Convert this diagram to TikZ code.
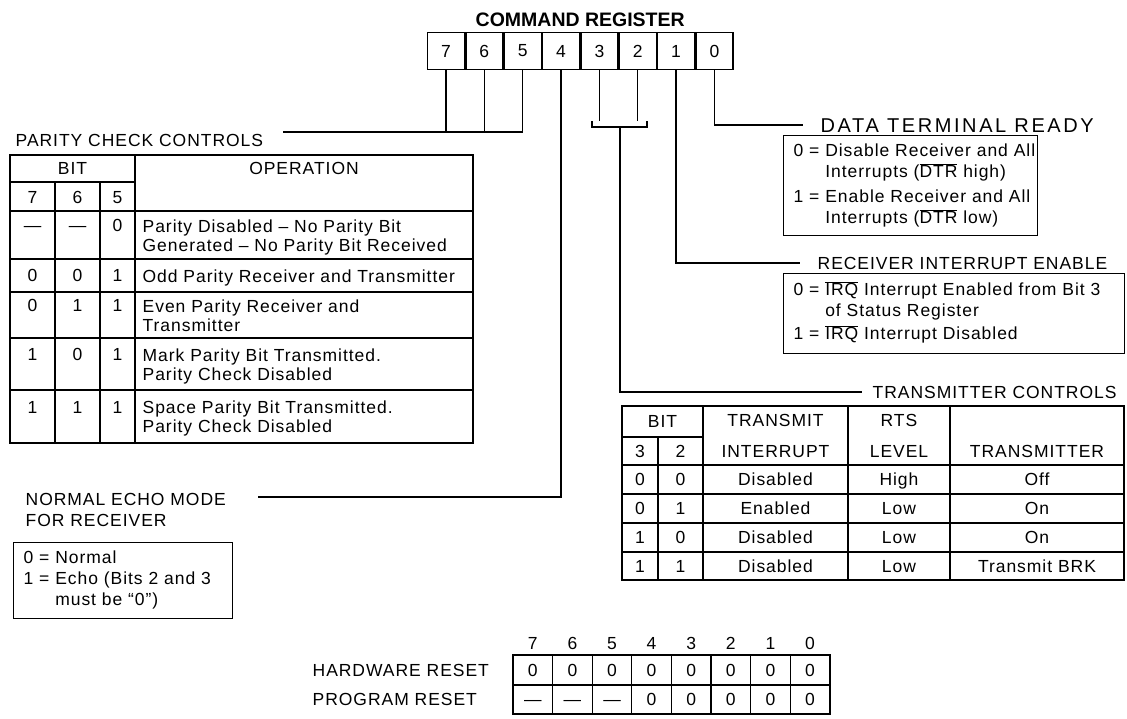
\documentclass[tikz,border=0pt]{standalone}
\usepackage{fontspec}
\setmainfont{Liberation Sans}[LetterSpace=5.5]
\newfontfamily\widefont{Liberation Sans}[LetterSpace=13]
\newfontfamily\headfont{Liberation Sans}
\usetikzlibrary{positioning, calc}
\newcommand{\bodysize}{\fontsize{17.5}{19}\selectfont}
\newcommand{\boxsize}{\fontsize{17.5}{21}\selectfont}
\newcommand{\barsig}[1]{$\overline{\mbox{#1}}$}

\begin{document}
\begin{tikzpicture}[x=1pt, y=-1pt, line width=1.35pt, font=\bodysize]
    \tikzstyle{reg} = [draw, minimum width=37pt, minimum height=37pt, inner sep=0pt]
    \tikzstyle{lbl} = [inner sep=0pt, anchor=west, text height=12.5pt, text depth=0pt]
    \tikzstyle{tcell} = [inner sep=0pt, text height=12.5pt, text depth=0pt]
    \tikzstyle{optext} = [inner sep=0pt, anchor=north west, align=left]
    \tikzstyle{infobox} = [draw, anchor=north west, align=left, inner xsep=10pt, inner ysep=0pt, font=\boxsize]

    \useasboundingbox (0,0) rectangle (1127,718);

    % command register
    \node [reg] (r7) at (446,51) {7};
    \foreach \b/\a in {6/7,5/6,4/5,3/4,2/3,1/2,0/1}
      \node [reg, right=0pt of r\a] (r\b) {\b};
    \node [anchor=base, font=\headfont\bfseries\fontsize{19.5}{22}\selectfont] (title) at ([yshift=5pt]r4.north east) {COMMAND REGISTER};

    % parity check controls
    \node [lbl] (parlbl) at (15,140) {PARITY CHECK CONTROLS};
    \coordinate (pj) at (283,132);
    \draw (r5.south) |- (pj);
    \draw (r7.south) -- (r7.south |- pj);
    \draw (r6.south) -- (r6.south |- pj);

    \draw (10,155) rectangle (473,443);
    \draw (10,182) -- (135,182);
    \draw (135,155) -- (135,443);
    \foreach \x in {55,100} \draw (\x,182) -- (\x,443);
    \foreach \y in {211,259,292,338,390} \draw (10,\y) -- (473,\y);
    \node [tcell] (pbit) at (72.5,168) {BIT};
    \node [tcell] (pop) at (304,168) {OPERATION};
    \foreach \d/\x in {7/32.5,6/77.5,5/117.5} \node [tcell] (pb\d) at (\x,197) {\d};
    \foreach \a/\b/\c/\y/\op [count=\i] in {
        ---/---/0/225.5/{Parity Disabled -- No Parity Bit\\Generated -- No Parity Bit Received},
        0/0/1/275.5/{Odd Parity Receiver and Transmitter},
        0/1/1/305.5/{Even Parity Receiver and\\Transmitter},
        1/0/1/354.5/{Mark Parity Bit Transmitted.\\Parity Check Disabled},
        1/1/1/407/{Space Parity Bit Transmitted.\\Parity Check Disabled}} {
      \node [tcell] (pa\i) at (32.5,\y) {\a};
      \node [tcell] (pc\i) at (77.5,\y) {\b};
      \node [tcell] (pd\i) at (117.5,\y) {\c};
      \node [optext] (po\i) at (142,\y-6.5) {\op};
    }

    % normal echo mode
    \node [optext, font=\boxsize] (echolbl) at (25,492.5) {NORMAL ECHO MODE\\FOR RECEIVER};
    \coordinate (ej) at (258,497);
    \draw (r4.south) |- (ej);
    \node [infobox, minimum width=219pt, minimum height=76pt, text width=199pt] (echobox) at (13,542) {%
      \begin{tabular}{@{}l@{ }l@{}}
        0 = & Normal\\
        1 = & Echo (Bits 2 and 3\\
            & must be ``0'')
      \end{tabular}};

    % data terminal ready
    \node [lbl, font=\widefont\fontsize{20}{22}\selectfont, text height=14pt] (dtrlbl) at (820,125) {DATA TERMINAL READY};
    \draw (r0.south) |- ([xshift=-17pt]dtrlbl.west);
    \node [infobox, minimum width=254pt, minimum height=100pt, text width=234pt] (dtrbox) at (783,135) {%
      \begin{tabular}{@{}l@{ }l@{}}
        0 = & Disable Receiver and All\\
            & Interrupts (\barsig{DTR} high)\\[4pt]
        1 = & Enable Receiver and All\\
            & Interrupts (\barsig{DTR} low)
      \end{tabular}};

    % receiver interrupt enable
    \node [lbl] (rielbl) at (817,263) {RECEIVER INTERRUPT ENABLE};
    \draw (r1.south) |- ([xshift=-17pt]rielbl.west);
    \node [infobox, minimum width=341pt, minimum height=80pt, text width=321pt] (riebox) at (783,273) {%
      \begin{tabular}{@{}l@{ }l@{}}
        0 = & \barsig{IRQ} Interrupt Enabled from Bit 3\\
            & of Status Register\\[2pt]
        1 = & \barsig{IRQ} Interrupt Disabled
      \end{tabular}};

    % transmitter controls
    \coordinate (brl) at (592,121);
    \coordinate (brr) at (647,121);
    \coordinate (brm) at (620,127);
    \draw (r3.south) -- (r3.south |- brl);
    \draw (r2.south) -- (r2.south |- brr);
    \draw (brl) -- (brl |- brm) -- (brr |- brm) -- (brr);
    \node [lbl] (txlbl) at (872,392) {TRANSMITTER CONTROLS};
    \draw (brm) |- ([xshift=-10pt]txlbl.west);

    \draw (622,406) rectangle (1124,580);
    \draw (622,437) -- (703,437);
    \draw (658,437) -- (658,580);
    \foreach \x in {703,848,950} \draw (\x,406) -- (\x,580);
    \foreach \y in {465,494,523,552} \draw (622,\y) -- (1124,\y);
    \node [tcell] (tbit) at (662.5,421) {BIT};
    \node [tcell] (tb3) at (640,451) {3};
    \node [tcell] (tb2) at (680.5,451) {2};
    \node [tcell] (tint1) at (775.5,420) {TRANSMIT};
    \node [tcell] (tint2) at (775.5,451) {INTERRUPT};
    \node [tcell] (trts1) at (899,420) {RTS};
    \node [tcell] (trts2) at (899,451) {LEVEL};
    \node [tcell] (ttx) at (1037,451) {TRANSMITTER};
    \foreach \a/\b/\ti/\rl/\tr/\y [count=\i] in {
        0/0/Disabled/High/Off/479.5,
        0/1/Enabled/Low/On/508.5,
        1/0/Disabled/Low/On/537.5,
        1/1/Disabled/Low/Transmit BRK/566} {
      \node [tcell] (ta\i) at (640,\y) {\a};
      \node [tcell] (tb\i) at (680.5,\y) {\b};
      \node [tcell] (ti\i) at (775.5,\y) {\ti};
      \node [tcell] (tr\i) at (899,\y) {\rl};
      \node [tcell] (tt\i) at (1037,\y) {\tr};
    }

    % reset values
    \foreach \b [count=\i from 0] in {7,...,0} \node [tcell] (rh\b) at ({532.8+39.6*\i},643) {\b};
    \draw (513,655) rectangle (830,714);
    \draw (513,685) -- (830,685);
    \foreach \i in {1,...,7} \draw ({513+39.6*\i},655) -- ({513+39.6*\i},714);
    \foreach \v [count=\i from 0] in {0,0,0,0,0,0,0,0} \node [tcell] (hw\i) at ({532.8+39.6*\i},670) {\v};
    \foreach \v [count=\i from 0] in {---,---,---,0,0,0,0,0} \node [tcell] (pr\i) at ({532.8+39.6*\i},699.5) {\v};
    \node [lbl] (hwlbl) at (312,670) {HARDWARE RESET};
    \node [lbl] (prlbl) at (312,699.5) {PROGRAM RESET};
\end{tikzpicture}
\end{document}
